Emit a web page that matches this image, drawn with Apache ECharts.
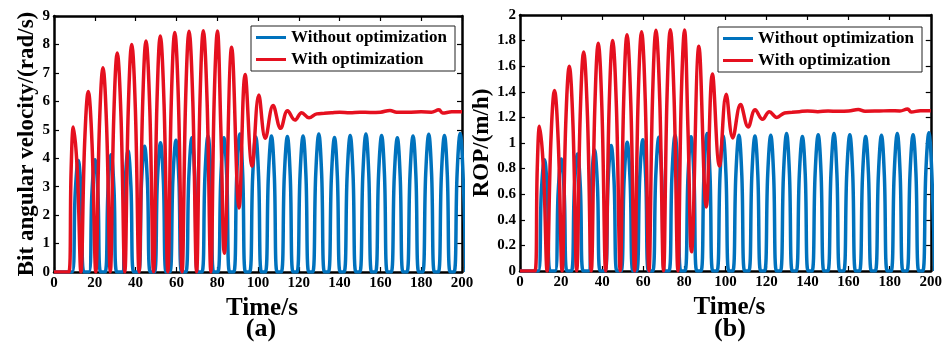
<!DOCTYPE html>
<html>
<head>
<meta charset="utf-8">
<script src="https://cdn.jsdelivr.net/npm/echarts@6/dist/echarts.min.js"></script>
<style>
    html, body { margin: 0; padding: 0; background: #fff; }
    #main { width: 945px; height: 344px; }
</style>
</head>
<body>
<div id="main"></div>
<script>
// tick labels
var xTicks = [0, 20, 40, 60, 80, 100, 120, 140, 160, 180, 200];
var yTicksA = [0, 1, 2, 3, 4, 5, 6, 7, 8, 9];
var yTicksB = [0, 0.2, 0.4, 0.6, 0.8, 1, 1.2, 1.4, 1.6, 1.8, 2];

var seriesNames = ['Without optimization', 'With optimization'];

// with optimization: times (s) (troughs, flanks, peaks)
var redT = [0, 7.3, 8.4, 9.5, 11.4, 13.2, 15.0, 16.8, 18.65, 20.5, 22.25, 24.0, 25.8, 27.6,
    29.3, 31.0, 32.85, 34.7, 36.4, 38.1, 39.9, 41.7, 43.4, 45.1, 46.95, 48.8, 50.45, 52.1, 53.95,
    55.8, 57.5, 59.2, 61.0, 62.8, 64.5, 66.2, 68.05, 69.9, 71.55, 73.2, 75.05, 76.9, 78.5, 80.1,
    81.8, 83.5, 87.1, 90.7, 93.7, 97.1, 100.4, 103.6, 107.4, 111.1,
    114.5, 118.1, 121.4, 125.0, 128.8, 132.5, 136, 140, 145, 150, 155, 160, 164.7, 168, 175, 180, 185,
    188.7, 190.5, 195, 200];
// bit angular velocity (rad/s)
var redA = [0, 0, 3.6, 5.1, 3.6, 0, 4.5, 6.35, 4.5, 0, 5.1, 7.18, 5.1, 0,
    5.45, 7.7, 5.45, 0, 5.7, 8.0, 5.7, 0, 5.75, 8.12, 5.75, 0, 5.9, 8.3, 5.9,
    0, 6.0, 8.42, 6.0, 0, 6.0, 8.46, 6.0, 0, 6.0, 8.48, 6.0, 0, 6.0, 8.47,
    5.0, 0.66, 7.9, 2.25, 6.94, 3.72, 6.22, 4.7, 5.85, 5.05,
    5.67, 5.34, 5.6, 5.42, 5.56, 5.58, 5.6, 5.62, 5.6, 5.62, 5.61, 5.62, 5.68, 5.62, 5.62, 5.63, 5.62,
    5.7, 5.59, 5.63, 5.63];
// ROP (m/h)
var redB = [0, 0, 0.8, 1.13, 0.8, 0, 1.0, 1.41, 1.0, 0, 1.14, 1.6, 1.14, 0,
    1.21, 1.71, 1.21, 0, 1.26, 1.78, 1.26, 0, 1.28, 1.8, 1.28, 0, 1.31, 1.845, 1.31,
    0, 1.33, 1.87, 1.33, 0, 1.335, 1.88, 1.335, 0, 1.34, 1.885, 1.34, 0, 1.34, 1.882,
    1.1, 0.15, 1.755, 0.5, 1.54, 0.82, 1.38, 1.04, 1.3, 1.125,
    1.26, 1.185, 1.245, 1.2, 1.235, 1.24, 1.245, 1.25, 1.245, 1.25, 1.248, 1.25, 1.262, 1.248, 1.25, 1.252, 1.25,
    1.265, 1.242, 1.252, 1.252];

// without optimization: each slip pulse as start, rising flank, peak, falling flank, end
var blueT = [0,
    8.9, 10.4, 11.9, 13.3, 14.7,
    17.1, 18.6, 20.1, 21.5, 22.9,
    25.0, 26.5, 28.0, 29.4, 30.8,
    33.3, 34.8, 36.3, 37.7, 39.1,
    41.4, 42.9, 44.4, 45.8, 47.2,
    49.2, 50.7, 52.2, 53.6, 55.0,
    56.8, 58.3, 59.8, 61.2, 62.6,
    64.6, 66.1, 67.6, 69.0, 70.4,
    72.5, 74.0, 75.5, 76.9, 78.3,
    80.3, 81.8, 83.3, 84.7, 86.1,
    88.1, 89.6, 91.1, 92.5, 93.9,
    95.9, 97.4, 98.9, 100.3, 101.7,
    103.6, 105.1, 106.6, 108.0, 109.4,
    111.4, 112.9, 114.4, 115.8, 117.2,
    119.1, 120.6, 122.1, 123.5, 124.9,
    126.8, 128.3, 129.8, 131.2, 132.6,
    134.5, 136.0, 137.5, 138.9, 140.3,
    142.2, 143.7, 145.2, 146.6, 148.0,
    149.9, 151.4, 152.9, 154.3, 155.7,
    157.6, 159.1, 160.6, 162.0, 163.4,
    165.3, 166.8, 168.3, 169.7, 171.1,
    173.0, 174.5, 176.0, 177.4, 178.8,
    180.7, 182.2, 183.7, 185.1, 186.5,
    188.4, 189.9, 191.4, 192.8, 194.2,
    196.1, 197.6, 199.1, 200.5, 201.9];
var blueA = [0,
    0, 2.78, 3.92, 2.78, 0,
    0, 2.8, 3.95, 2.8, 0,
    0, 2.92, 4.12, 2.92, 0,
    0, 3.02, 4.26, 3.02, 0,
    0, 3.14, 4.42, 3.14, 0,
    0, 3.22, 4.54, 3.22, 0,
    0, 3.29, 4.63, 3.29, 0,
    0, 3.35, 4.72, 3.35, 0,
    0, 3.39, 4.78, 3.39, 0,
    0, 3.35, 4.72, 3.35, 0,
    0, 3.44, 4.85, 3.44, 0,
    0, 3.37, 4.75, 3.37, 0,
    0, 3.39, 4.78, 3.39, 0,
    0, 3.38, 4.76, 3.38, 0,
    0, 3.39, 4.78, 3.39, 0,
    0, 3.44, 4.85, 3.44, 0,
    0, 3.36, 4.73, 3.36, 0,
    0, 3.41, 4.8, 3.41, 0,
    0, 3.44, 4.85, 3.44, 0,
    0, 3.41, 4.8, 3.41, 0,
    0, 3.35, 4.72, 3.35, 0,
    0, 3.39, 4.78, 3.39, 0,
    0, 3.44, 4.84, 3.44, 0,
    0, 3.41, 4.8, 3.41, 0,
    0, 3.46, 4.87, 3.46, 0];
var blueB = [0,
    0, 0.62, 0.87, 0.62, 0,
    0, 0.62, 0.875, 0.62, 0,
    0, 0.65, 0.915, 0.65, 0,
    0, 0.67, 0.945, 0.67, 0,
    0, 0.7, 0.98, 0.7, 0,
    0, 0.71, 1.005, 0.71, 0,
    0, 0.73, 1.025, 0.73, 0,
    0, 0.74, 1.045, 0.74, 0,
    0, 0.75, 1.06, 0.75, 0,
    0, 0.74, 1.048, 0.74, 0,
    0, 0.76, 1.075, 0.76, 0,
    0, 0.75, 1.055, 0.75, 0,
    0, 0.75, 1.06, 0.75, 0,
    0, 0.75, 1.055, 0.75, 0,
    0, 0.75, 1.06, 0.75, 0,
    0, 0.76, 1.075, 0.76, 0,
    0, 0.75, 1.05, 0.75, 0,
    0, 0.76, 1.065, 0.76, 0,
    0, 0.76, 1.075, 0.76, 0,
    0, 0.76, 1.065, 0.76, 0,
    0, 0.75, 1.05, 0.75, 0,
    0, 0.75, 1.06, 0.75, 0,
    0, 0.76, 1.075, 0.76, 0,
    0, 0.76, 1.065, 0.76, 0,
    0, 0.77, 1.08, 0.77, 0];

(function () {
    var chart = echarts.init(document.getElementById('main'));
    var font = 'Liberation Serif';
    var blue = '#0072bd';
    var red = '#e5101f';

    function pairs(ts, vs) {
        return ts.map(function (t, i) { return [t, vs[i]]; });
    }

    function boldText(size) {
        return { fontFamily: font, fontWeight: 'bold', fontSize: size, color: '#000' };
    }

    var frameLine = { onZero: false, lineStyle: { color: '#000', width: 2.5 } };
    var tick = { inside: true, length: 5, lineStyle: { color: '#000', width: 1.2 } };

    function xAxes(grid) {
        return [{
            gridIndex: grid, type: 'value',
            min: xTicks[0], max: xTicks[xTicks.length - 1], interval: xTicks[1] - xTicks[0],
            name: 'Time/s', nameLocation: 'middle', nameGap: 13,
            nameTextStyle: Object.assign({ padding: [0, 0, 0, 8] }, boldText(25)),
            axisLine: frameLine, axisTick: tick,
            axisLabel: Object.assign({ margin: 4 }, boldText(15)),
            splitLine: { show: false }
        }, {
            gridIndex: grid, type: 'value', position: 'top',
            min: xTicks[0], max: xTicks[xTicks.length - 1], interval: xTicks[1] - xTicks[0],
            axisLine: frameLine, axisTick: tick, axisLabel: { show: false },
            splitLine: { show: false }
        }];
    }

    function yAxes(grid, ticks, name) {
        var step = Math.round((ticks[1] - ticks[0]) * 10) / 10;
        return [{
            gridIndex: grid, type: 'value',
            min: ticks[0], max: ticks[ticks.length - 1], interval: step,
            name: name, nameLocation: 'middle', nameGap: 14, nameTextStyle: boldText(23),
            axisLine: frameLine, axisTick: tick,
            axisLabel: Object.assign({ margin: 4 }, boldText(15)),
            splitLine: { show: false }
        }, {
            gridIndex: grid, type: 'value', position: 'right',
            min: ticks[0], max: ticks[ticks.length - 1], interval: step,
            axisLine: frameLine, axisTick: tick, axisLabel: { show: false },
            splitLine: { show: false }
        }];
    }

    function line(name, color, axis, data, z) {
        return {
            name: name, type: 'line', xAxisIndex: axis, yAxisIndex: axis,
            data: data, showSymbol: false, smooth: 0.4, z: z,
            itemStyle: { color: color },
            lineStyle: { color: color, width: 3.5 }
        };
    }

    function legend(left, top) {
        return {
            data: seriesNames, orient: 'vertical', left: left, top: top,
            icon: 'rect', itemWidth: 30, itemHeight: 3, itemGap: 5,
            padding: [3, 8, 3, 5],
            backgroundColor: '#fff', borderColor: '#222', borderWidth: 1, borderRadius: 0,
            textStyle: boldText(17)
        };
    }

    var option = {
        animation: false,
        backgroundColor: '#fff',
        grid: [
            { left: 54, top: 16, width: 408, height: 256 },
            { left: 520, top: 15, width: 411, height: 256 }
        ],
        xAxis: xAxes(0).concat(xAxes(1)),
        yAxis: yAxes(0, yTicksA, 'Bit angular velocity/(rad/s)').concat(yAxes(1, yTicksB, 'ROP/(m/h)')),
        legend: [legend(251, 26), legend(718, 27)],
        graphic: [
            { type: 'text', x: 261, y: 316, style: Object.assign({ text: '(a)', textAlign: 'center' }, boldText(26)) },
            { type: 'text', x: 730, y: 316, style: Object.assign({ text: '(b)', textAlign: 'center' }, boldText(26)) }
        ],
        series: [
            line(seriesNames[0], blue, 0, pairs(blueT, blueA), 3),
            line(seriesNames[1], red, 0, pairs(redT, redA), 4),
            line(seriesNames[0], blue, 2, pairs(blueT, blueB), 3),
            line(seriesNames[1], red, 2, pairs(redT, redB), 4)
        ]
    };
    chart.setOption(option);
})();
</script>
</body>
</html>
